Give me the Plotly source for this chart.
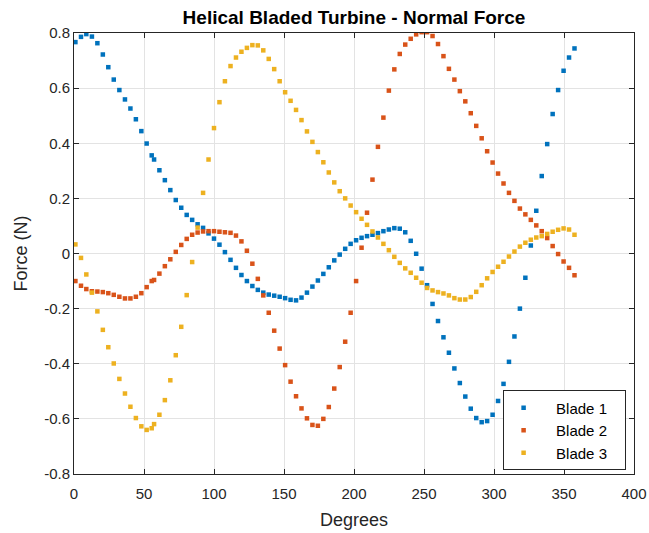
import plotly.graph_objects as go

# Rotor angle samples (degrees), shared by all three blades
degrees = [
    1.0, 5.0, 8.8, 12.8, 16.7, 20.6, 24.5, 28.4, 32.4, 36.4,
    40.3, 44.2, 48.1, 51.9, 55.5, 57.2, 61.0, 64.9, 68.8, 72.7,
    76.6, 80.5, 84.4, 88.3, 92.2, 96.1, 100.0, 103.9, 107.8, 111.8,
    115.7, 119.6, 123.5, 127.4, 131.3, 135.2, 139.1, 143.0, 146.9, 150.8,
    154.7, 158.6, 162.5, 166.4, 170.3, 174.2, 178.1, 182.0, 185.9, 189.8,
    193.7, 197.6, 201.5, 205.4, 209.3, 213.2, 217.1, 221.0, 224.9, 228.8,
    232.7, 236.6, 240.5, 244.4, 248.3, 252.2, 256.1, 260.0, 263.9, 267.8,
    271.7, 275.6, 279.5, 283.4, 287.3, 291.2, 295.1, 299.0, 302.9, 306.8,
    310.7, 314.6, 318.5, 322.4, 326.3, 330.2, 334.1, 338.0, 341.9, 345.8,
    349.7, 353.6, 357.5,
]

# Normal force on each blade (N)
blade1 = [
    0.767, 0.786, 0.796, 0.787, 0.763, 0.722, 0.676, 0.631, 0.593, 0.559,
    0.526, 0.487, 0.444, 0.399, 0.356, 0.341, 0.302, 0.266, 0.230, 0.194,
    0.166, 0.140, 0.122, 0.106, 0.093, 0.073, 0.054, 0.032, 0.005, -0.023,
    -0.052, -0.078, -0.100, -0.118, -0.132, -0.142, -0.149, -0.153, -0.157, -0.162,
    -0.168, -0.170, -0.160, -0.142, -0.120, -0.098, -0.074, -0.050, -0.025, -0.004,
    0.017, 0.035, 0.048, 0.057, 0.063, 0.068, 0.074, 0.081, 0.087, 0.092,
    0.090, 0.077, 0.046, -0.001, -0.055, -0.115, -0.183, -0.245, -0.304, -0.360,
    -0.417, -0.470, -0.519, -0.563, -0.597, -0.612, -0.608, -0.585, -0.535, -0.473,
    -0.393, -0.301, -0.200, -0.088, 0.029, 0.155, 0.281, 0.397, 0.506, 0.593,
    0.663, 0.711, 0.744,
]
blade2 = [
    -0.100, -0.117, -0.129, -0.137, -0.138, -0.140, -0.144, -0.150, -0.157, -0.163,
    -0.163, -0.157, -0.144, -0.122, -0.100, -0.096, -0.073, -0.046, -0.021, 0.006,
    0.031, 0.053, 0.068, 0.076, 0.080, 0.081, 0.081, 0.079, 0.077, 0.075,
    0.065, 0.044, 0.010, -0.037, -0.092, -0.152, -0.215, -0.280, -0.345, -0.405,
    -0.465, -0.518, -0.562, -0.598, -0.622, -0.625, -0.600, -0.557, -0.490, -0.412,
    -0.320, -0.215, -0.100, 0.021, 0.148, 0.268, 0.387, 0.493, 0.591, 0.668,
    0.724, 0.758, 0.779, 0.795, 0.803, 0.803, 0.789, 0.760, 0.716, 0.670,
    0.631, 0.589, 0.552, 0.509, 0.463, 0.418, 0.371, 0.330, 0.290, 0.254,
    0.220, 0.191, 0.163, 0.142, 0.122, 0.102, 0.081, 0.056, 0.027, -0.002,
    -0.029, -0.052, -0.079,
]
blade3 = [
    0.033, -0.016, -0.076, -0.142, -0.210, -0.277, -0.340, -0.399, -0.455, -0.508,
    -0.556, -0.597, -0.627, -0.640, -0.634, -0.619, -0.585, -0.532, -0.460, -0.369,
    -0.266, -0.151, -0.031, 0.094, 0.220, 0.341, 0.455, 0.549, 0.625, 0.680,
    0.711, 0.732, 0.746, 0.756, 0.755, 0.737, 0.706, 0.669, 0.625, 0.585,
    0.554, 0.521, 0.484, 0.443, 0.405, 0.368, 0.331, 0.294, 0.258, 0.226,
    0.200, 0.174, 0.150, 0.126, 0.104, 0.080, 0.058, 0.035, 0.012, -0.012,
    -0.034, -0.054, -0.070, -0.088, -0.106, -0.125, -0.134, -0.140, -0.145, -0.152,
    -0.162, -0.167, -0.167, -0.158, -0.139, -0.115, -0.090, -0.067, -0.048, -0.030,
    -0.011, 0.007, 0.025, 0.039, 0.050, 0.058, 0.063, 0.071, 0.079, 0.086,
    0.091, 0.087, 0.068,
]

series_names = ["Blade 1", "Blade 2", "Blade 3"]
series_colors = ["#0072BD", "#D95319", "#EDB120"]

x_ticks = [0, 50, 100, 150, 200, 250, 300, 350, 400]
y_ticks = [-0.8, -0.6, -0.4, -0.2, 0, 0.2, 0.4, 0.6, 0.8]
y_tick_text = ["-0.8", "-0.6", "-0.4", "-0.2", "0", "0.2", "0.4", "0.6", "0.8"]

FONT = "Liberation Sans, Arial, Helvetica, sans-serif"
AXIS_COLOR = "#262626"
GRID_COLOR = "#e3e3e3"
NBSP = "\u00a0"

fig = go.Figure()
for name, ys, color in zip(series_names, [blade1, blade2, blade3], series_colors):
    fig.add_trace(go.Scatter(
        x=degrees, y=ys, mode="markers",
        # padded so the legend keeps a wider gap between symbol and label
        name=NBSP * 3 + name + NBSP * 3,
        marker=dict(symbol="square", size=4.5, color=color, line=dict(width=0)),
    ))

axis_common = dict(
    showline=True, linecolor=AXIS_COLOR, linewidth=1, mirror="ticks",
    ticks="inside", ticklen=5, tickcolor=AXIS_COLOR, tickwidth=1,
    showgrid=True, gridcolor=GRID_COLOR, gridwidth=1,
    zeroline=False, automargin=False,
    tickfont=dict(family=FONT, size=15, color=AXIS_COLOR),
)

fig.update_xaxes(
    range=[0, 400], tickvals=x_ticks, ticktext=[str(v) for v in x_ticks],
    ticklabelstandoff=6,
    title=dict(text="Degrees", font=dict(family=FONT, size=18, color=AXIS_COLOR), standoff=12),
    **axis_common,
)
fig.update_yaxes(
    range=[-0.8, 0.8], tickvals=y_ticks, ticktext=y_tick_text,
    title=dict(text="Force (N)", font=dict(family=FONT, size=18, color=AXIS_COLOR), standoff=11),
    **axis_common,
)

fig.update_layout(
    width=649, height=533,
    margin=dict(l=74, r=15, t=33, b=59),
    paper_bgcolor="white", plot_bgcolor="white",
    title=dict(
        text="<b>Helical Bladed Turbine - Normal Force</b>",
        x=(74 + 634) / 2 / 649, xanchor="center", y=1 - 17 / 533, yanchor="middle",
        font=dict(family=FONT, size=19, color="black"),
    ),
    legend=dict(
        x=0.985, y=0.008, xanchor="right", yanchor="bottom",
        bgcolor="white", bordercolor=AXIS_COLOR, borderwidth=1,
        font=dict(family=FONT, size=15, color="black"),
        itemwidth=30, tracegroupgap=2,
    ),
    showlegend=True,
)

fig.write_html("out.html")
